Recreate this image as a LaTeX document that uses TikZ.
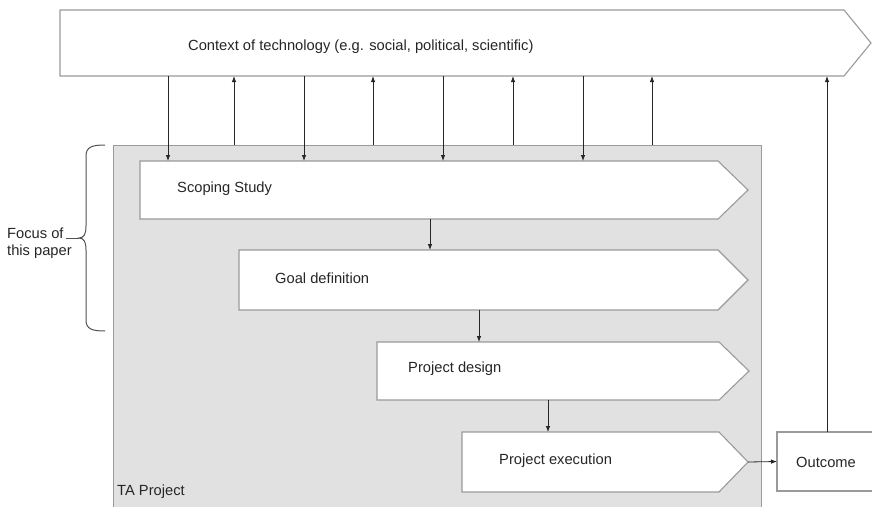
\documentclass[tikz,border=0pt]{standalone}
\usepackage{fontspec}
\setmainfont{Liberation Sans}
\usetikzlibrary{arrows.meta,calc}
\definecolor{edge}{HTML}{9A9A9A}
\definecolor{panel}{HTML}{E1E1E1}
\definecolor{ink}{HTML}{262626}
\begin{document}
\begin{tikzpicture}[x=1pt,y=-1pt,
  body/.style={inner sep=0, outer sep=0, anchor=north west},
  chev/.style={draw=edge, line width=1.1pt, fill=white, line join=miter},
  lbl/.style={anchor=west, inner sep=0, font=\fontsize{14.7}{17}\selectfont, text=ink},
  link/.style={draw=ink, line width=0.8pt, -{Latex[length=6pt,width=4.5pt]}},
  bracket/.style={draw=ink!80, line width=1pt}]
\useasboundingbox (0,0) rectangle (872,506);
% panel
\node[body, fill=panel, draw=edge, line width=1pt, minimum width=648pt, minimum height=370pt] (ta) at (113,145) {};
\node[lbl] (talbl) at (117,492) {TA Project};
% context
\node[body, minimum width=784pt, minimum height=66pt] (ctx) at (60,10) {};
\draw[chev] (ctx.north west) -- (ctx.north east) -- ($(ctx.east)+(27,0)$) -- (ctx.south east) -- (ctx.south west) -- cycle;
\node[lbl] (ctxlbl) at (188,47) {Context of technology (e.g. social, political, scientific)};
% stages
\node[body, minimum width=578pt, minimum height=58pt] (ss) at (140,161) {};
\draw[chev] (ss.north west) -- (ss.north east) -- ($(ss.east)+(30,0)$) -- (ss.south east) -- (ss.south west) -- cycle;
\node[lbl] (sslbl) at (177,189) {Scoping Study};
\node[body, minimum width=479pt, minimum height=60pt] (gd) at (239,250) {};
\draw[chev] (gd.north west) -- (gd.north east) -- ($(gd.east)+(30,0)$) -- (gd.south east) -- (gd.south west) -- cycle;
\node[lbl] (gdlbl) at (275,278) {Goal definition};
\node[body, minimum width=342pt, minimum height=58pt] (pd) at (377,342) {};
\draw[chev] (pd.north west) -- (pd.north east) -- ($(pd.east)+(30,0)$) -- (pd.south east) -- (pd.south west) -- cycle;
\node[lbl] (pdlbl) at (408,369) {Project design};
\node[body, minimum width=257pt, minimum height=60pt] (ex) at (462,432) {};
\draw[chev] (ex.north west) -- (ex.north east) -- ($(ex.east)+(29,0)$) -- (ex.south east) -- (ex.south west) -- cycle;
\coordinate (extip) at ($(ex.east)+(29,0)$);
\node[lbl] (exlbl) at (499,461) {Project execution};
\node[body, draw=edge, line width=1.1pt, fill=white, minimum width=100pt, minimum height=59pt] (out) at (777,432) {};
\node[lbl] (outlbl) at (796,462) {Outcome};
% connectors context <-> scoping
\foreach \x in {168,304,443,583} \draw[link] (\x,0 |- ctx.south) -- (\x,0 |- ss.north);
\foreach \x in {234,373,513,652} \draw[link] (\x,0 |- ta.north) -- (\x,0 |- ctx.south);
% stage chain
\draw[link] (430,0 |- ss.south) -- (430,0 |- gd.north);
\draw[link] (479,0 |- gd.south) -- (479,0 |- pd.north);
\draw[link] (548,0 |- pd.south) -- (548,0 |- ex.north);
\draw[link] (extip) -- (out.west);
\draw[link] (out.north) -- (out.north |- ctx.south);
% brace
\draw[bracket] (105,145) .. controls (92,145) and (86,147) .. (86,156) -- (86,226) .. controls (86,234) and (84,238) .. (79,238) .. controls (84,238) and (86,242) .. (86,250) -- (86,320) .. controls (86,329) and (92,331) .. (105,331);
\node[lbl, align=left, font=\fontsize{14.7}{17}\selectfont] (focus) at (7,243.5) {Focus of\\this paper};
\coordinate (btip) at (79,238);
\draw[bracket] (66,238) -- (btip);
\end{tikzpicture}
\end{document}
